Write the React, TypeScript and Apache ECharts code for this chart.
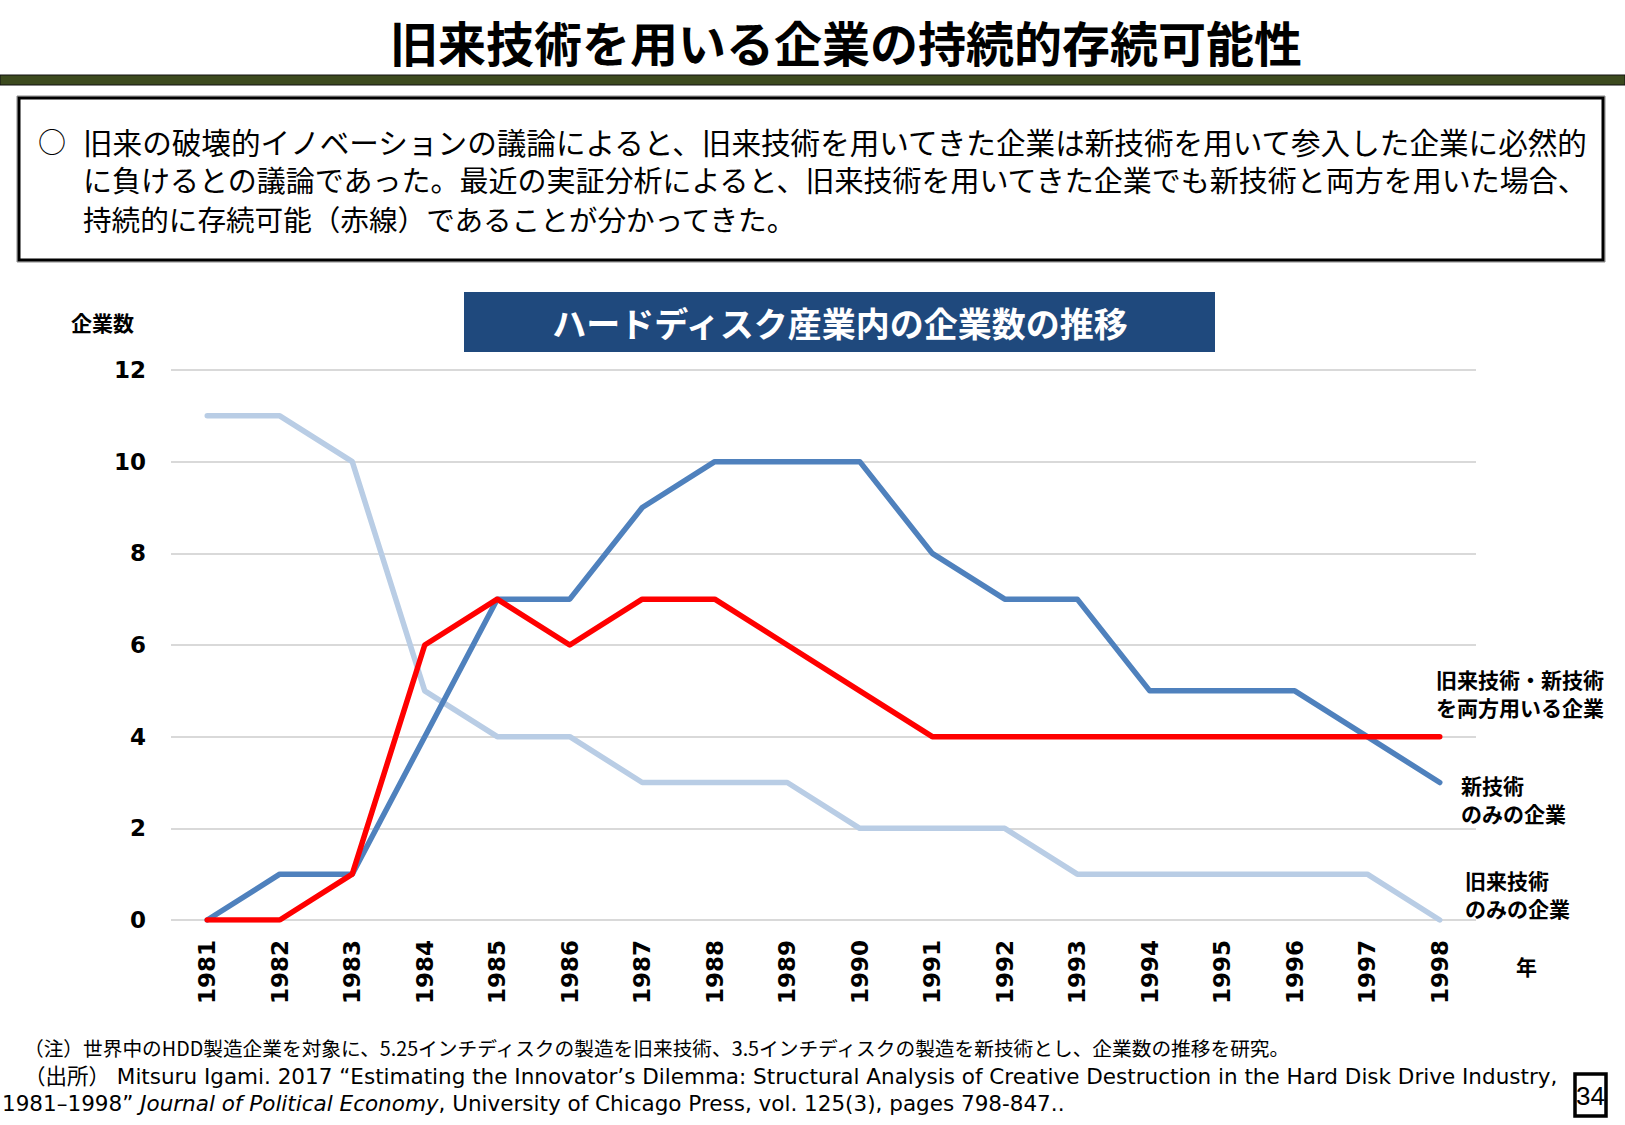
import React, { useEffect, useRef } from "react";
import * as echarts from "echarts";

const years = ["1981","1982","1983","1984","1985","1986","1987","1988","1989","1990","1991","1992","1993","1994","1995","1996","1997","1998"];
const oldOnly = [11, 11, 10, 5, 4, 4, 3, 3, 3, 2, 2, 2, 1, 1, 1, 1, 1, 0];
const newOnly = [0, 1, 1, 4, 7, 7, 9, 10, 10, 10, 8, 7, 7, 5, 5, 5, 4, 3];
const both = [0, 0, 1, 6, 7, 6, 7, 7, 6, 5, 4, 4, 4, 4, 4, 4, 4, 4];
const yTicks = { min: 0, max: 12, interval: 2 };

const pageTitle = "旧来技術を用いる企業の持続的存続可能性";
const boxLines = [
  "旧来の破壊的イノベーションの議論によると、旧来技術を用いてきた企業は新技術を用いて参入した企業に必然的",
  "に負けるとの議論であった。最近の実証分析によると、旧来技術を用いてきた企業でも新技術と両方を用いた場合、",
  "持続的に存続可能（赤線）であることが分かってきた。",
];
const chartTitle = "ハードディスク産業内の企業数の推移";
const yName = "企業数";
const xName = "年";
const seriesLabels = {
  both: "旧来技術・新技術\nを両方用いる企業",
  newOnly: "新技術\nのみの企業",
  oldOnly: "旧来技術\nのみの企業",
};
const note1 = "（注）世界中のHDD製造企業を対象に、5.25インチディスクの製造を旧来技術、3.5インチディスクの製造を新技術とし、企業数の推移を研究。";
const note2 = "（出所） Mitsuru Igami. 2017 “Estimating the Innovator’s Dilemma: Structural Analysis of Creative Destruction in the Hard Disk Drive Industry,";
const note3 = "1981–1998” {i|Journal of Political Economy}, University of Chicago Press, vol. 125(3), pages 798-847..";
const pageNo = "34";

const JP = '"Noto Sans CJK JP", "Noto Sans", sans-serif';
const LAT = '"DejaVu Sans", "Noto Sans CJK JP", sans-serif';

export default function App() {
  const ref = useRef<HTMLDivElement>(null);
  useEffect(() => {
    document.body.style.margin = "0";
    const chart = echarts.init(ref.current!, null, { renderer: "svg" });
    const label = (text: string, x: number, y: number) => ({
      type: "text",
      x,
      y,
      style: { text, fill: "#000", font: `bold 21px ${JP}`, lineHeight: 28, verticalAlign: "middle" },
    });
    chart.setOption({
      animation: false,
      backgroundColor: "#fff",
      grid: { left: 171, right: 149, top: 370, bottom: 205 },
      xAxis: {
        type: "category",
        data: years,
        boundaryGap: true,
        axisLine: { show: false },
        axisTick: { show: false },
        axisLabel: { rotate: 90, margin: 20, color: "#000", fontWeight: "bold", fontSize: 23, fontFamily: LAT },
      },
      yAxis: {
        type: "value",
        min: yTicks.min,
        max: yTicks.max,
        interval: yTicks.interval,
        axisLine: { show: false },
        axisTick: { show: false },
        axisLabel: { margin: 25, color: "#000", fontWeight: "bold", fontSize: 23, fontFamily: LAT },
        splitLine: { lineStyle: { color: "#d9d9d9", width: 2 } },
      },
      series: [
        { type: "line", data: oldOnly, symbol: "none", lineStyle: { color: "#b9cde5", width: 5.5, cap: "round", join: "round" } },
        { type: "line", data: newOnly, symbol: "none", lineStyle: { color: "#4f81bd", width: 5.5, cap: "round", join: "round" } },
        { type: "line", data: both, symbol: "none", lineStyle: { color: "#ff0000", width: 5.5, cap: "round", join: "round" } },
      ],
      graphic: [
        { type: "text", x: 846, y: 41, style: { text: pageTitle, fill: "#000", font: `bold 48px ${JP}`, align: "center", verticalAlign: "middle" } },
        { type: "rect", shape: { x: 0, y: 75, width: 1625, height: 10 }, style: { fill: "#3c4a1e", stroke: "#111", lineWidth: 1 } },
        { type: "rect", shape: { x: 17, y: 96, width: 1588, height: 166 }, style: { fill: "none", stroke: "#888", lineWidth: 1 } },
        { type: "rect", shape: { x: 19, y: 98, width: 1584, height: 162 }, style: { fill: "#fff", stroke: "#000", lineWidth: 3 } },
        { type: "text", x: 38, y: 141, style: { text: "○", fill: "#000", font: `28px ${JP}`, lineHeight: 30, verticalAlign: "middle" } },
        ...boxLines.map((t, i) => ({
          type: "text",
          x: 83,
          y: [141, 179, 218][i],
          style: { text: t, fill: "#000", font: `${[29.6, 29, 28.6][i]}px ${JP}`, lineHeight: 32, verticalAlign: "middle" },
        })),
        { type: "rect", shape: { x: 464, y: 292, width: 751, height: 60 }, style: { fill: "#1f497d" } },
        { type: "text", x: 840, y: 322, style: { text: chartTitle, fill: "#fff", font: `bold 34px ${JP}`, align: "center", verticalAlign: "middle" } },
        { type: "text", x: 71, y: 322, style: { text: yName, fill: "#000", font: `bold 21px ${JP}`, verticalAlign: "middle" } },
        { type: "text", x: 1516, y: 966, style: { text: xName, fill: "#000", font: `bold 21px ${JP}`, verticalAlign: "middle" } },
        label(seriesLabels.both, 1436, 693),
        label(seriesLabels.newOnly, 1461, 799),
        label(seriesLabels.oldOnly, 1465, 894),
        { type: "text", x: 24, y: 1047, style: { text: note1, fill: "#000", font: `19.7px ${JP}`, lineHeight: 24, verticalAlign: "middle" } },
        { type: "text", x: 24, y: 1076, style: { text: note2, fill: "#000", font: `21.5px ${LAT}`, lineHeight: 25, verticalAlign: "middle" } },
        {
          type: "text",
          x: 2,
          y: 1103,
          style: {
            text: note3,
            fill: "#000",
            font: `21.5px ${LAT}`,
            lineHeight: 25,
            verticalAlign: "middle",
            rich: { i: { fontStyle: "italic", fontSize: 21.5, fontFamily: LAT, fill: "#000", lineHeight: 25 } },
          },
        },
        { type: "rect", shape: { x: 1575, y: 1074, width: 31, height: 42 }, style: { fill: "#fff", stroke: "#000", lineWidth: 3.5 } },
        { type: "text", x: 1590.5, y: 1096, style: { text: pageNo, fill: "#000", font: `26px "Liberation Sans Narrow", "Liberation Sans", sans-serif`, align: "center", verticalAlign: "middle" } },
      ],
    });
    return () => chart.dispose();
  }, []);
  return <div ref={ref} style={{ position: "absolute", left: 0, top: 0, width: 1625, height: 1125 }} />;
}
